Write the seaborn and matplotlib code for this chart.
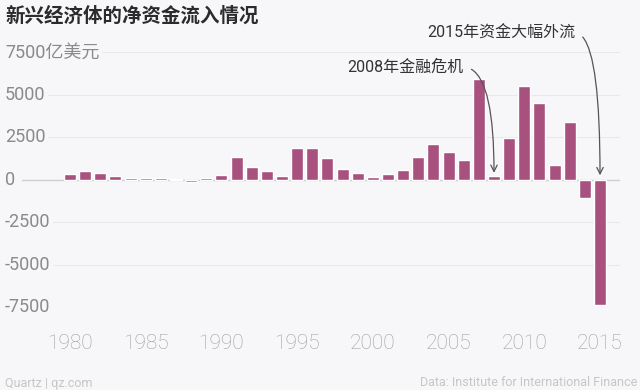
import matplotlib
matplotlib.use("Agg")
import matplotlib.pyplot as plt
import matplotlib.transforms as mtransforms
import seaborn as sns

# net capital inflows to emerging economies, 100 million USD
years = list(range(1980, 2016))
flows = [350, 530, 415, 240, 130, 140, 120, 70, -120, 90,
         300, 1380, 750, 550, 220, 1860, 1910, 1280, 630, 415,
         180, 375, 610, 1380, 2130, 1640, 1180, 5920, 240, 2450,
         5550, 4520, 870, 3430, -1085, -7380]

y_ticks = [-7500, -5000, -2500, 0, 2500, 5000, 7500]
y_tick_labels = ["-7500", "-5000", "-2500", "0", "2500", "5000", "7500亿美元"]
x_ticks = [1980, 1985, 1990, 1995, 2000, 2005, 2010, 2015]

bg = "#f7f6f8"
bar_color = "#a8517f"

sns.set_style("white")
plt.rcParams["font.family"] = ["Roboto", "Noto Sans CJK SC", "DejaVu Sans"]

fig = plt.figure(figsize=(6.4, 3.9), dpi=100, facecolor=bg)
W, H = 640, 390
ax = fig.add_axes([22 / W, (H - 307.5) / H, 598 / W, (307.5 - 40) / H])
ax.set_facecolor(bg)

sns.barplot(x=years, y=flows, native_scale=True, color=bar_color,
            width=0.8, saturation=1, ax=ax, zorder=3)

ax.set_xlim(1976.83, 2016.32)
ax.set_ylim(-7500, 8235)
for s in ax.spines.values():
    s.set_visible(False)

# gridlines
ax.set_yticks(y_ticks)
ax.set_yticklabels([])
ax.tick_params(axis="y", length=0)
ax.grid(axis="y", color="#e9e8eb", linewidth=0.8, zorder=0)
ax.axhline(0, color="#cfcfd2", linewidth=1, zorder=2)

# y labels sit on the gridlines at the far left
trans = mtransforms.blended_transform_factory(fig.transFigure, ax.transData)
for v, lab in zip(y_ticks, y_tick_labels):
    ax.text(5 / W, v, lab, transform=trans, ha="left", va="center",
            fontsize=13, color="#8a8a8a", zorder=5,
            bbox=dict(facecolor=bg, edgecolor="none", pad=2))

ax.set_xticks(x_ticks)
ax.set_xticklabels([str(x) for x in x_ticks], fontsize=15,
                   color="#a0a0a0", fontweight="light")
ax.tick_params(axis="x", length=10, width=0.8, color="#e6e5e8", pad=9)
ax.set_xlabel("")
ax.set_ylabel("")

fig.text(5 / W, 1 - 16 / H, "新兴经济体的净资金流入情况", ha="left", va="center",
         fontsize=14, fontweight="bold", color="#2b2b2b",
         family=["Noto Sans CJK SC", "DejaVu Sans"])

arrow = dict(arrowstyle="->", color="#555555", lw=0.9, shrinkA=4, shrinkB=0,
             relpos=(1, 0.5), connectionstyle="angle3,angleA=0,angleB=90")
ax.annotate("2008年金融危机", xy=(2008, 420), xytext=(463, H - 67),
            textcoords="figure pixels", ha="right", va="center",
            fontsize=11.5, color="#333333", arrowprops=arrow, zorder=6)
ax.annotate("2015年资金大幅外流", xy=(2015, 280), xytext=(575, H - 33),
            textcoords="figure pixels", ha="right", va="center",
            fontsize=11.5, color="#333333", arrowprops=arrow, zorder=6)

fig.text(5 / W, 1 - 383 / H, "Quartz | qz.com", ha="left", va="center",
         fontsize=9, color="#c6c6c8")
fig.text(637 / W, 1 - 383 / H, "Data: Institute for International Finance",
         ha="right", va="center", fontsize=9, color="#c6c6c8")

fig.savefig("out.png", dpi=100, facecolor=bg)
